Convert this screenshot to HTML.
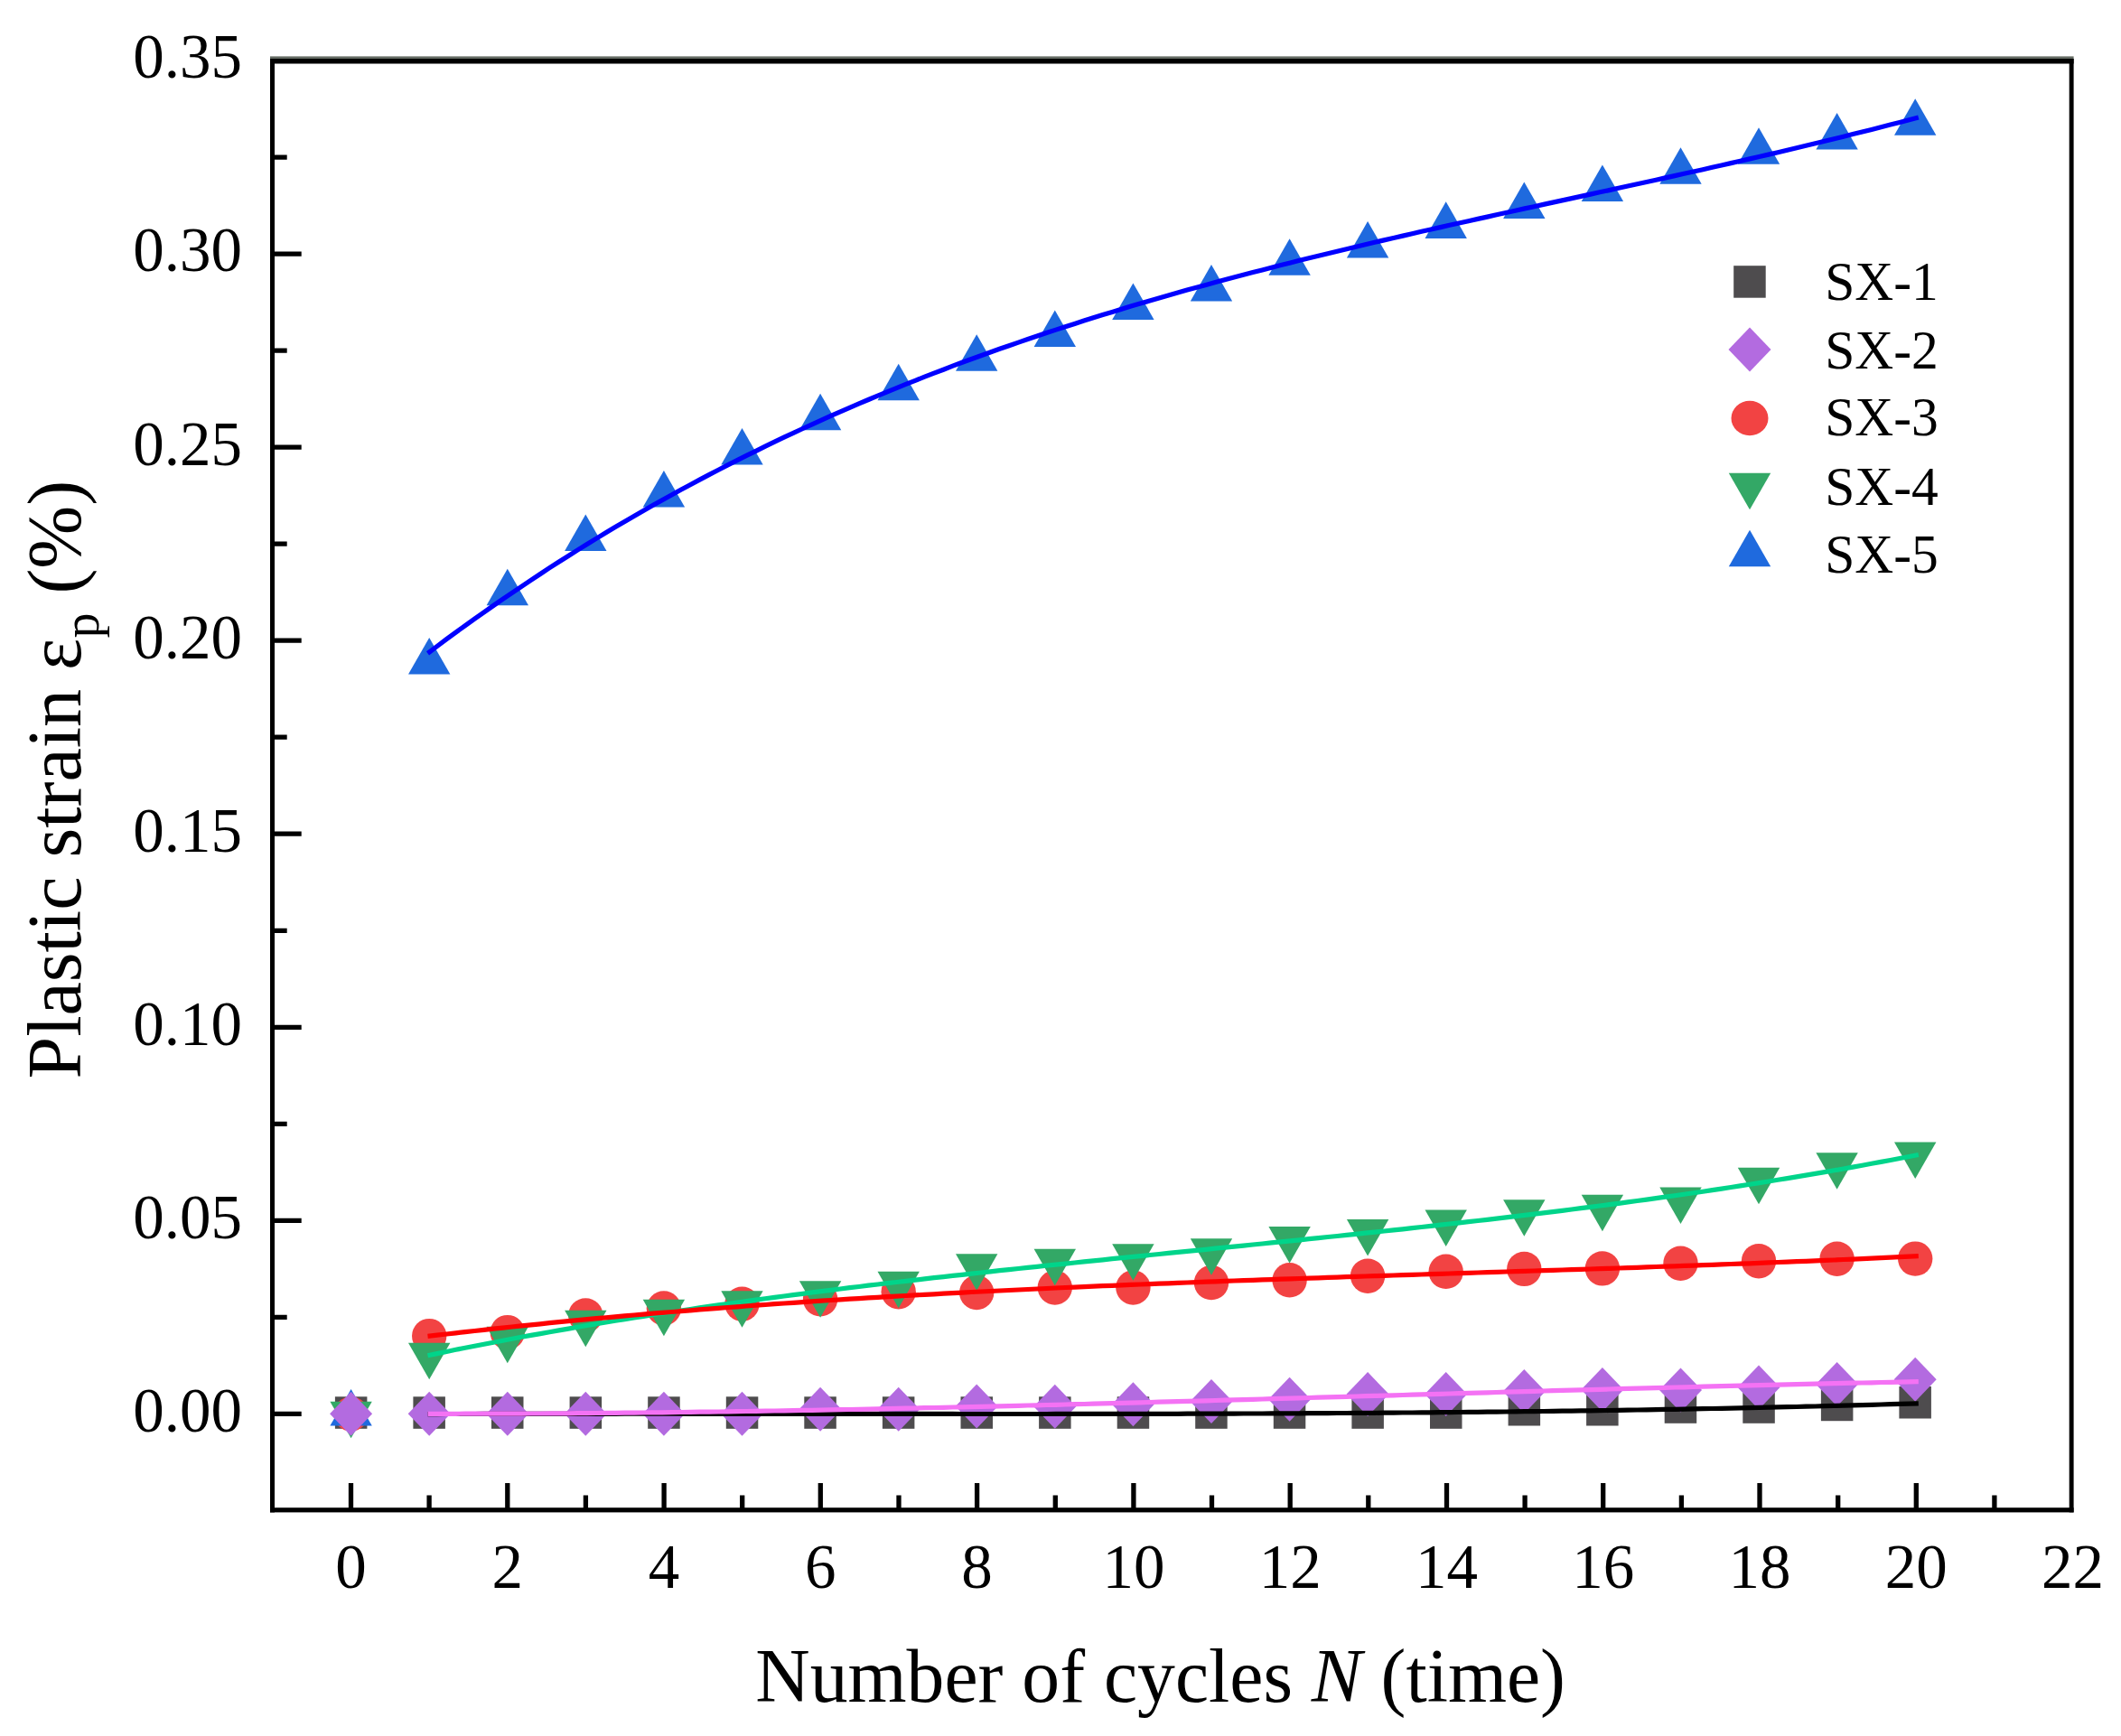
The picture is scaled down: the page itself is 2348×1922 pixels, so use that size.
<!DOCTYPE html><html><head><meta charset="utf-8"><title>Plastic strain vs number of cycles</title>
<style>html,body{margin:0;padding:0;background:#fff;}svg{display:block;}text{font-family:"Liberation Serif","Times New Roman",serif;fill:#000;}</style></head><body>
<svg width="2348" height="1922" viewBox="0 0 2348 1922">
<rect width="2348" height="1922" fill="#fff"/>
<g id="markers">
<rect x="370.9" y="1546.3" width="35.5" height="35.5" fill="#4e4c4e"/>
<rect x="457.4" y="1546.3" width="35.5" height="35.5" fill="#4e4c4e"/>
<rect x="544.0" y="1546.3" width="35.5" height="35.5" fill="#4e4c4e"/>
<rect x="630.6" y="1546.3" width="35.5" height="35.5" fill="#4e4c4e"/>
<rect x="717.2" y="1546.3" width="35.5" height="35.5" fill="#4e4c4e"/>
<rect x="803.8" y="1546.3" width="35.5" height="35.5" fill="#4e4c4e"/>
<rect x="890.3" y="1546.3" width="35.5" height="35.5" fill="#4e4c4e"/>
<rect x="976.9" y="1546.3" width="35.5" height="35.5" fill="#4e4c4e"/>
<rect x="1063.5" y="1546.3" width="35.5" height="35.5" fill="#4e4c4e"/>
<rect x="1150.1" y="1546.3" width="35.5" height="35.5" fill="#4e4c4e"/>
<rect x="1236.7" y="1546.3" width="35.5" height="35.5" fill="#4e4c4e"/>
<rect x="1323.2" y="1546.3" width="35.5" height="35.5" fill="#4e4c4e"/>
<rect x="1409.8" y="1546.3" width="35.5" height="35.5" fill="#4e4c4e"/>
<rect x="1496.4" y="1546.3" width="35.5" height="35.5" fill="#4e4c4e"/>
<rect x="1583.0" y="1546.3" width="35.5" height="35.5" fill="#4e4c4e"/>
<rect x="1669.6" y="1543.0" width="35.5" height="35.5" fill="#4e4c4e"/>
<rect x="1756.1" y="1543.0" width="35.5" height="35.5" fill="#4e4c4e"/>
<rect x="1842.7" y="1540.3" width="35.5" height="35.5" fill="#4e4c4e"/>
<rect x="1929.3" y="1540.3" width="35.5" height="35.5" fill="#4e4c4e"/>
<rect x="2015.9" y="1537.7" width="35.5" height="35.5" fill="#4e4c4e"/>
<rect x="2102.4" y="1535.0" width="35.5" height="35.5" fill="#4e4c4e"/>
<path d="M475.2 1540.8L498.7 1565.3L475.2 1589.8L451.7 1565.3Z" fill="#b36be0"/>
<path d="M561.8 1540.8L585.3 1565.3L561.8 1589.8L538.3 1565.3Z" fill="#b36be0"/>
<path d="M648.3 1540.8L671.8 1565.3L648.3 1589.8L624.8 1565.3Z" fill="#b36be0"/>
<path d="M734.9 1540.8L758.4 1565.3L734.9 1589.8L711.4 1565.3Z" fill="#b36be0"/>
<path d="M821.5 1540.8L845.0 1565.3L821.5 1589.8L798.0 1565.3Z" fill="#b36be0"/>
<path d="M908.1 1535.7L931.6 1560.2L908.1 1584.7L884.6 1560.2Z" fill="#b36be0"/>
<path d="M994.7 1535.7L1018.2 1560.2L994.7 1584.7L971.2 1560.2Z" fill="#b36be0"/>
<path d="M1081.2 1532.6L1104.7 1557.1L1081.2 1581.6L1057.7 1557.1Z" fill="#b36be0"/>
<path d="M1167.8 1532.7L1191.3 1557.2L1167.8 1581.7L1144.3 1557.2Z" fill="#b36be0"/>
<path d="M1254.4 1530.3L1277.9 1554.8L1254.4 1579.3L1230.9 1554.8Z" fill="#b36be0"/>
<path d="M1341.0 1527.1L1364.5 1551.6L1341.0 1576.1L1317.5 1551.6Z" fill="#b36be0"/>
<path d="M1427.6 1524.7L1451.1 1549.2L1427.6 1573.7L1404.1 1549.2Z" fill="#b36be0"/>
<path d="M1514.1 1519.1L1537.6 1543.6L1514.1 1568.1L1490.6 1543.6Z" fill="#b36be0"/>
<path d="M1600.7 1519.0L1624.2 1543.5L1600.7 1568.0L1577.2 1543.5Z" fill="#b36be0"/>
<path d="M1687.3 1516.1L1710.8 1540.6L1687.3 1565.1L1663.8 1540.6Z" fill="#b36be0"/>
<path d="M1773.9 1514.0L1797.4 1538.5L1773.9 1563.0L1750.4 1538.5Z" fill="#b36be0"/>
<path d="M1860.5 1514.4L1884.0 1538.9L1860.5 1563.4L1837.0 1538.9Z" fill="#b36be0"/>
<path d="M1947.0 1511.5L1970.5 1536.0L1947.0 1560.5L1923.5 1536.0Z" fill="#b36be0"/>
<path d="M2033.6 1508.0L2057.1 1532.5L2033.6 1557.0L2010.1 1532.5Z" fill="#b36be0"/>
<path d="M2120.2 1502.7L2143.7 1527.2L2120.2 1551.7L2096.7 1527.2Z" fill="#b36be0"/>
<circle cx="388.6" cy="1565.4" r="19.2" fill="#f24343"/>
<circle cx="475.2" cy="1479.1" r="19.2" fill="#f24343"/>
<circle cx="561.8" cy="1475.1" r="19.2" fill="#f24343"/>
<circle cx="648.3" cy="1456.4" r="19.2" fill="#f24343"/>
<circle cx="734.9" cy="1448.5" r="19.2" fill="#f24343"/>
<circle cx="821.5" cy="1443.7" r="19.2" fill="#f24343"/>
<circle cx="908.1" cy="1438.3" r="19.2" fill="#f24343"/>
<circle cx="994.7" cy="1430.2" r="19.2" fill="#f24343"/>
<circle cx="1081.2" cy="1431.0" r="19.2" fill="#f24343"/>
<circle cx="1167.8" cy="1425.5" r="19.2" fill="#f24343"/>
<circle cx="1254.4" cy="1425.5" r="19.2" fill="#f24343"/>
<circle cx="1341.0" cy="1420.1" r="19.2" fill="#f24343"/>
<circle cx="1427.6" cy="1417.3" r="19.2" fill="#f24343"/>
<circle cx="1514.1" cy="1412.7" r="19.2" fill="#f24343"/>
<circle cx="1600.7" cy="1407.8" r="19.2" fill="#f24343"/>
<circle cx="1687.3" cy="1404.9" r="19.2" fill="#f24343"/>
<circle cx="1773.9" cy="1404.4" r="19.2" fill="#f24343"/>
<circle cx="1860.5" cy="1398.7" r="19.2" fill="#f24343"/>
<circle cx="1947.0" cy="1396.2" r="19.2" fill="#f24343"/>
<circle cx="2033.6" cy="1393.7" r="19.2" fill="#f24343"/>
<circle cx="2120.2" cy="1393.6" r="19.2" fill="#f24343"/>
<path d="M365.4 1551.8L411.8 1551.8L388.6 1592.2Z" fill="#33a866"/>
<path d="M452.0 1486.8L498.4 1486.8L475.2 1527.2Z" fill="#33a866"/>
<path d="M538.6 1468.7L585.0 1468.7L561.8 1509.2Z" fill="#33a866"/>
<path d="M625.1 1450.8L671.5 1450.8L648.3 1491.2Z" fill="#33a866"/>
<path d="M711.7 1438.8L758.1 1438.8L734.9 1479.2Z" fill="#33a866"/>
<path d="M798.3 1429.2L844.7 1429.2L821.5 1469.8Z" fill="#33a866"/>
<path d="M884.9 1418.2L931.3 1418.2L908.1 1458.7Z" fill="#33a866"/>
<path d="M971.5 1407.8L1017.9 1407.8L994.7 1448.2Z" fill="#33a866"/>
<path d="M1058.0 1388.3L1104.4 1388.3L1081.2 1428.8Z" fill="#33a866"/>
<path d="M1144.6 1382.8L1191.0 1382.8L1167.8 1423.3Z" fill="#33a866"/>
<path d="M1231.2 1377.3L1277.6 1377.3L1254.4 1417.8Z" fill="#33a866"/>
<path d="M1317.8 1371.3L1364.2 1371.3L1341.0 1411.8Z" fill="#33a866"/>
<path d="M1404.4 1358.0L1450.8 1358.0L1427.6 1398.5Z" fill="#33a866"/>
<path d="M1490.9 1350.0L1537.3 1350.0L1514.1 1390.5Z" fill="#33a866"/>
<path d="M1577.5 1339.5L1623.9 1339.5L1600.7 1380.0Z" fill="#33a866"/>
<path d="M1664.1 1328.2L1710.5 1328.2L1687.3 1368.7Z" fill="#33a866"/>
<path d="M1750.7 1322.8L1797.1 1322.8L1773.9 1363.2Z" fill="#33a866"/>
<path d="M1837.3 1314.5L1883.7 1314.5L1860.5 1355.0Z" fill="#33a866"/>
<path d="M1923.8 1292.7L1970.2 1292.7L1947.0 1333.2Z" fill="#33a866"/>
<path d="M2010.4 1276.2L2056.8 1276.2L2033.6 1316.7Z" fill="#33a866"/>
<path d="M2097.0 1264.5L2143.4 1264.5L2120.2 1305.0Z" fill="#33a866"/>
<path d="M388.6 1538.0L411.8 1578.5L365.4 1578.5Z" fill="#1f6ade"/>
<path d="M475.2 706.0L498.4 746.5L452.0 746.5Z" fill="#1f6ade"/>
<path d="M561.8 629.8L585.0 670.2L538.6 670.2Z" fill="#1f6ade"/>
<path d="M648.3 569.5L671.5 610.0L625.1 610.0Z" fill="#1f6ade"/>
<path d="M734.9 521.1L758.1 561.6L711.7 561.6Z" fill="#1f6ade"/>
<path d="M821.5 474.1L844.7 514.5L798.3 514.5Z" fill="#1f6ade"/>
<path d="M908.1 435.8L931.3 476.2L884.9 476.2Z" fill="#1f6ade"/>
<path d="M994.7 402.8L1017.9 443.2L971.5 443.2Z" fill="#1f6ade"/>
<path d="M1081.2 370.2L1104.4 410.8L1058.0 410.8Z" fill="#1f6ade"/>
<path d="M1167.8 343.4L1191.0 383.9L1144.6 383.9Z" fill="#1f6ade"/>
<path d="M1254.4 313.4L1277.6 353.9L1231.2 353.9Z" fill="#1f6ade"/>
<path d="M1341.0 292.9L1364.2 333.4L1317.8 333.4Z" fill="#1f6ade"/>
<path d="M1427.6 264.2L1450.8 304.8L1404.4 304.8Z" fill="#1f6ade"/>
<path d="M1514.1 245.1L1537.3 285.6L1490.9 285.6Z" fill="#1f6ade"/>
<path d="M1600.7 223.3L1623.9 263.9L1577.5 263.9Z" fill="#1f6ade"/>
<path d="M1687.3 201.6L1710.5 242.1L1664.1 242.1Z" fill="#1f6ade"/>
<path d="M1773.9 182.4L1797.1 222.9L1750.7 222.9Z" fill="#1f6ade"/>
<path d="M1860.5 163.3L1883.7 203.8L1837.3 203.8Z" fill="#1f6ade"/>
<path d="M1947.0 141.3L1970.2 181.8L1923.8 181.8Z" fill="#1f6ade"/>
<path d="M2033.6 125.1L2056.8 165.6L2010.4 165.6Z" fill="#1f6ade"/>
<path d="M2120.2 109.2L2143.4 149.7L2097.0 149.7Z" fill="#1f6ade"/>
<path d="M388.6 1540.8L412.1 1565.3L388.6 1589.8L365.1 1565.3Z" fill="#b36be0"/>
</g>
<g fill="none" stroke-width="5.2" stroke-linejoin="round">
<polyline points="473.5,1565.6 483.9,1565.6 494.3,1565.5 504.6,1565.5 515.0,1565.5 525.4,1565.5 535.8,1565.4 546.2,1565.4 556.5,1565.4 566.9,1565.4 577.3,1565.4 587.7,1565.3 598.1,1565.3 608.4,1565.3 618.8,1565.3 629.2,1565.3 639.6,1565.3 649.9,1565.3 660.3,1565.3 670.7,1565.3 681.1,1565.3 691.5,1565.2 701.8,1565.2 712.2,1565.2 722.6,1565.2 733.0,1565.2 743.4,1565.2 753.7,1565.2 764.1,1565.3 774.5,1565.3 784.9,1565.3 795.3,1565.3 805.6,1565.3 816.0,1565.3 826.4,1565.3 836.8,1565.3 847.2,1565.3 857.5,1565.3 867.9,1565.3 878.3,1565.3 888.7,1565.3 899.0,1565.3 909.4,1565.3 919.8,1565.4 930.2,1565.4 940.6,1565.4 950.9,1565.4 961.3,1565.4 971.7,1565.4 982.1,1565.4 992.5,1565.4 1002.8,1565.4 1013.2,1565.4 1023.6,1565.4 1034.0,1565.4 1044.4,1565.4 1054.7,1565.4 1065.1,1565.5 1075.5,1565.5 1085.9,1565.5 1096.3,1565.5 1106.6,1565.5 1117.0,1565.5 1127.4,1565.5 1137.8,1565.5 1148.2,1565.5 1158.5,1565.5 1168.9,1565.4 1179.3,1565.4 1189.7,1565.4 1200.0,1565.4 1210.4,1565.4 1220.8,1565.4 1231.2,1565.4 1241.6,1565.4 1251.9,1565.4 1262.3,1565.3 1272.7,1565.3 1283.1,1565.3 1293.5,1565.3 1303.8,1565.3 1314.2,1565.2 1324.6,1565.2 1335.0,1565.2 1345.4,1565.1 1355.7,1565.1 1366.1,1565.1 1376.5,1565.0 1386.9,1565.0 1397.3,1565.0 1407.6,1564.9 1418.0,1564.9 1428.4,1564.8 1438.8,1564.8 1449.1,1564.7 1459.5,1564.7 1469.9,1564.6 1480.3,1564.5 1490.7,1564.5 1501.0,1564.4 1511.4,1564.3 1521.8,1564.3 1532.2,1564.2 1542.6,1564.1 1552.9,1564.0 1563.3,1564.0 1573.7,1563.9 1584.1,1563.8 1594.5,1563.7 1604.8,1563.6 1615.2,1563.5 1625.6,1563.4 1636.0,1563.3 1646.4,1563.2 1656.7,1563.1 1667.1,1563.0 1677.5,1562.8 1687.9,1562.7 1698.3,1562.6 1708.6,1562.5 1719.0,1562.3 1729.4,1562.2 1739.8,1562.1 1750.1,1561.9 1760.5,1561.8 1770.9,1561.6 1781.3,1561.5 1791.7,1561.3 1802.0,1561.1 1812.4,1561.0 1822.8,1560.8 1833.2,1560.6 1843.6,1560.4 1853.9,1560.3 1864.3,1560.1 1874.7,1559.9 1885.1,1559.7 1895.5,1559.5 1905.8,1559.3 1916.2,1559.1 1926.6,1558.9 1937.0,1558.6 1947.4,1558.4 1957.7,1558.2 1968.1,1557.9 1978.5,1557.7 1988.9,1557.5 1999.2,1557.2 2009.6,1557.0 2020.0,1556.7 2030.4,1556.4 2040.8,1556.2 2051.1,1555.9 2061.5,1555.6 2071.9,1555.3 2082.3,1555.0 2092.7,1554.7 2103.0,1554.4 2113.4,1554.1 2123.8,1553.8" stroke="#000000"/>
<polyline points="473.5,1565.3 483.9,1565.3 494.3,1565.3 504.6,1565.3 515.0,1565.2 525.4,1565.2 535.8,1565.2 546.2,1565.2 556.5,1565.2 566.9,1565.1 577.3,1565.1 587.7,1565.0 598.1,1565.0 608.4,1564.9 618.8,1564.8 629.2,1564.8 639.6,1564.7 649.9,1564.6 660.3,1564.5 670.7,1564.4 681.1,1564.3 691.5,1564.2 701.8,1564.1 712.2,1564.0 722.6,1563.9 733.0,1563.8 743.4,1563.7 753.7,1563.5 764.1,1563.4 774.5,1563.2 784.9,1563.1 795.3,1563.0 805.6,1562.8 816.0,1562.6 826.4,1562.5 836.8,1562.3 847.2,1562.2 857.5,1562.0 867.9,1561.8 878.3,1561.6 888.7,1561.4 899.0,1561.3 909.4,1561.1 919.8,1560.9 930.2,1560.7 940.6,1560.5 950.9,1560.3 961.3,1560.1 971.7,1559.8 982.1,1559.6 992.5,1559.4 1002.8,1559.2 1013.2,1559.0 1023.6,1558.7 1034.0,1558.5 1044.4,1558.3 1054.7,1558.0 1065.1,1557.8 1075.5,1557.6 1085.9,1557.3 1096.3,1557.1 1106.6,1556.8 1117.0,1556.6 1127.4,1556.3 1137.8,1556.0 1148.2,1555.8 1158.5,1555.5 1168.9,1555.3 1179.3,1555.0 1189.7,1554.7 1200.0,1554.5 1210.4,1554.2 1220.8,1553.9 1231.2,1553.6 1241.6,1553.4 1251.9,1553.1 1262.3,1552.8 1272.7,1552.5 1283.1,1552.2 1293.5,1551.9 1303.8,1551.7 1314.2,1551.4 1324.6,1551.1 1335.0,1550.8 1345.4,1550.5 1355.7,1550.2 1366.1,1549.9 1376.5,1549.6 1386.9,1549.3 1397.3,1549.0 1407.6,1548.7 1418.0,1548.4 1428.4,1548.1 1438.8,1547.8 1449.1,1547.5 1459.5,1547.2 1469.9,1546.9 1480.3,1546.6 1490.7,1546.3 1501.0,1546.0 1511.4,1545.7 1521.8,1545.4 1532.2,1545.1 1542.6,1544.8 1552.9,1544.5 1563.3,1544.2 1573.7,1543.9 1584.1,1543.6 1594.5,1543.3 1604.8,1543.0 1615.2,1542.7 1625.6,1542.4 1636.0,1542.1 1646.4,1541.8 1656.7,1541.5 1667.1,1541.2 1677.5,1540.9 1687.9,1540.6 1698.3,1540.3 1708.6,1540.0 1719.0,1539.7 1729.4,1539.4 1739.8,1539.1 1750.1,1538.9 1760.5,1538.6 1770.9,1538.3 1781.3,1538.0 1791.7,1537.7 1802.0,1537.4 1812.4,1537.1 1822.8,1536.9 1833.2,1536.6 1843.6,1536.3 1853.9,1536.0 1864.3,1535.8 1874.7,1535.5 1885.1,1535.2 1895.5,1534.9 1905.8,1534.7 1916.2,1534.4 1926.6,1534.2 1937.0,1533.9 1947.4,1533.6 1957.7,1533.4 1968.1,1533.1 1978.5,1532.9 1988.9,1532.6 1999.2,1532.4 2009.6,1532.1 2020.0,1531.9 2030.4,1531.7 2040.8,1531.4 2051.1,1531.2 2061.5,1531.0 2071.9,1530.8 2082.3,1530.5 2092.7,1530.3 2103.0,1530.1 2113.4,1529.9 2123.8,1529.7" stroke="#f472f4"/>
<polyline points="473.5,1500.7 483.9,1498.6 494.3,1496.5 504.6,1494.3 515.0,1492.3 525.4,1490.2 535.8,1488.2 546.2,1486.2 556.5,1484.2 566.9,1482.3 577.3,1480.3 587.7,1478.4 598.1,1476.6 608.4,1474.7 618.8,1472.9 629.2,1471.1 639.6,1469.3 649.9,1467.5 660.3,1465.8 670.7,1464.0 681.1,1462.3 691.5,1460.7 701.8,1459.0 712.2,1457.4 722.6,1455.7 733.0,1454.1 743.4,1452.6 753.7,1451.0 764.1,1449.5 774.5,1447.9 784.9,1446.4 795.3,1444.9 805.6,1443.5 816.0,1442.0 826.4,1440.6 836.8,1439.2 847.2,1437.7 857.5,1436.4 867.9,1435.0 878.3,1433.6 888.7,1432.3 899.0,1430.9 909.4,1429.6 919.8,1428.3 930.2,1427.0 940.6,1425.7 950.9,1424.5 961.3,1423.2 971.7,1422.0 982.1,1420.7 992.5,1419.5 1002.8,1418.3 1013.2,1417.1 1023.6,1415.9 1034.0,1414.7 1044.4,1413.6 1054.7,1412.4 1065.1,1411.3 1075.5,1410.1 1085.9,1409.0 1096.3,1407.8 1106.6,1406.7 1117.0,1405.6 1127.4,1404.5 1137.8,1403.4 1148.2,1402.3 1158.5,1401.2 1168.9,1400.1 1179.3,1399.1 1189.7,1398.0 1200.0,1396.9 1210.4,1395.8 1220.8,1394.8 1231.2,1393.7 1241.6,1392.7 1251.9,1391.6 1262.3,1390.6 1272.7,1389.5 1283.1,1388.5 1293.5,1387.4 1303.8,1386.4 1314.2,1385.3 1324.6,1384.3 1335.0,1383.3 1345.4,1382.2 1355.7,1381.2 1366.1,1380.1 1376.5,1379.1 1386.9,1378.0 1397.3,1377.0 1407.6,1375.9 1418.0,1374.9 1428.4,1373.8 1438.8,1372.8 1449.1,1371.7 1459.5,1370.6 1469.9,1369.5 1480.3,1368.5 1490.7,1367.4 1501.0,1366.3 1511.4,1365.2 1521.8,1364.1 1532.2,1363.0 1542.6,1361.9 1552.9,1360.8 1563.3,1359.6 1573.7,1358.5 1584.1,1357.4 1594.5,1356.2 1604.8,1355.0 1615.2,1353.9 1625.6,1352.7 1636.0,1351.5 1646.4,1350.3 1656.7,1349.1 1667.1,1347.9 1677.5,1346.6 1687.9,1345.4 1698.3,1344.1 1708.6,1342.9 1719.0,1341.6 1729.4,1340.3 1739.8,1339.0 1750.1,1337.7 1760.5,1336.4 1770.9,1335.0 1781.3,1333.6 1791.7,1332.3 1802.0,1330.9 1812.4,1329.5 1822.8,1328.1 1833.2,1326.6 1843.6,1325.2 1853.9,1323.7 1864.3,1322.2 1874.7,1320.7 1885.1,1319.2 1895.5,1317.6 1905.8,1316.1 1916.2,1314.5 1926.6,1312.9 1937.0,1311.3 1947.4,1309.6 1957.7,1308.0 1968.1,1306.3 1978.5,1304.6 1988.9,1302.9 1999.2,1301.1 2009.6,1299.4 2020.0,1297.6 2030.4,1295.8 2040.8,1294.0 2051.1,1292.1 2061.5,1290.2 2071.9,1288.3 2082.3,1286.4 2092.7,1284.5 2103.0,1282.5 2113.4,1280.5 2123.8,1278.5" stroke="#00d48a"/>
<polyline points="473.5,1479.4 483.9,1478.2 494.3,1477.0 504.6,1475.8 515.0,1474.6 525.4,1473.5 535.8,1472.3 546.2,1471.2 556.5,1470.1 566.9,1469.0 577.3,1467.9 587.7,1466.8 598.1,1465.8 608.4,1464.7 618.8,1463.7 629.2,1462.7 639.6,1461.7 649.9,1460.7 660.3,1459.7 670.7,1458.8 681.1,1457.8 691.5,1456.9 701.8,1456.0 712.2,1455.1 722.6,1454.2 733.0,1453.3 743.4,1452.5 753.7,1451.6 764.1,1450.8 774.5,1449.9 784.9,1449.1 795.3,1448.3 805.6,1447.5 816.0,1446.8 826.4,1446.0 836.8,1445.2 847.2,1444.5 857.5,1443.7 867.9,1443.0 878.3,1442.3 888.7,1441.6 899.0,1440.9 909.4,1440.2 919.8,1439.5 930.2,1438.9 940.6,1438.2 950.9,1437.6 961.3,1436.9 971.7,1436.3 982.1,1435.7 992.5,1435.1 1002.8,1434.5 1013.2,1433.9 1023.6,1433.3 1034.0,1432.8 1044.4,1432.2 1054.7,1431.6 1065.1,1431.1 1075.5,1430.5 1085.9,1430.0 1096.3,1429.5 1106.6,1429.0 1117.0,1428.5 1127.4,1428.0 1137.8,1427.5 1148.2,1427.0 1158.5,1426.5 1168.9,1426.0 1179.3,1425.5 1189.7,1425.1 1200.0,1424.6 1210.4,1424.2 1220.8,1423.7 1231.2,1423.3 1241.6,1422.9 1251.9,1422.4 1262.3,1422.0 1272.7,1421.6 1283.1,1421.2 1293.5,1420.8 1303.8,1420.4 1314.2,1420.0 1324.6,1419.6 1335.0,1419.2 1345.4,1418.8 1355.7,1418.4 1366.1,1418.0 1376.5,1417.7 1386.9,1417.3 1397.3,1416.9 1407.6,1416.6 1418.0,1416.2 1428.4,1415.8 1438.8,1415.5 1449.1,1415.1 1459.5,1414.8 1469.9,1414.4 1480.3,1414.1 1490.7,1413.7 1501.0,1413.4 1511.4,1413.0 1521.8,1412.7 1532.2,1412.4 1542.6,1412.0 1552.9,1411.7 1563.3,1411.4 1573.7,1411.0 1584.1,1410.7 1594.5,1410.4 1604.8,1410.0 1615.2,1409.7 1625.6,1409.4 1636.0,1409.0 1646.4,1408.7 1656.7,1408.4 1667.1,1408.0 1677.5,1407.7 1687.9,1407.4 1698.3,1407.0 1708.6,1406.7 1719.0,1406.4 1729.4,1406.0 1739.8,1405.7 1750.1,1405.3 1760.5,1405.0 1770.9,1404.7 1781.3,1404.3 1791.7,1404.0 1802.0,1403.6 1812.4,1403.3 1822.8,1402.9 1833.2,1402.5 1843.6,1402.2 1853.9,1401.8 1864.3,1401.4 1874.7,1401.1 1885.1,1400.7 1895.5,1400.3 1905.8,1399.9 1916.2,1399.5 1926.6,1399.1 1937.0,1398.8 1947.4,1398.4 1957.7,1397.9 1968.1,1397.5 1978.5,1397.1 1988.9,1396.7 1999.2,1396.3 2009.6,1395.9 2020.0,1395.4 2030.4,1395.0 2040.8,1394.5 2051.1,1394.1 2061.5,1393.6 2071.9,1393.2 2082.3,1392.7 2092.7,1392.2 2103.0,1391.7 2113.4,1391.2 2123.8,1390.7" stroke="#ff0000"/>
<polyline points="473.5,723.3 483.9,715.5 494.3,707.7 504.6,700.1 515.0,692.6 525.4,685.2 535.8,677.8 546.2,670.5 556.5,663.4 566.9,656.3 577.3,649.3 587.7,642.3 598.1,635.5 608.4,628.7 618.8,622.0 629.2,615.5 639.6,608.9 649.9,602.5 660.3,596.1 670.7,589.8 681.1,583.6 691.5,577.5 701.8,571.5 712.2,565.5 722.6,559.6 733.0,553.7 743.4,548.0 753.7,542.3 764.1,536.7 774.5,531.1 784.9,525.6 795.3,520.2 805.6,514.9 816.0,509.6 826.4,504.4 836.8,499.3 847.2,494.2 857.5,489.2 867.9,484.2 878.3,479.4 888.7,474.5 899.0,469.8 909.4,465.1 919.8,460.4 930.2,455.9 940.6,451.3 950.9,446.9 961.3,442.5 971.7,438.1 982.1,433.8 992.5,429.6 1002.8,425.4 1013.2,421.3 1023.6,417.2 1034.0,413.1 1044.4,409.2 1054.7,405.2 1065.1,401.3 1075.5,397.5 1085.9,393.7 1096.3,390.0 1106.6,386.3 1117.0,382.7 1127.4,379.1 1137.8,375.5 1148.2,372.0 1158.5,368.5 1168.9,365.1 1179.3,361.7 1189.7,358.4 1200.0,355.1 1210.4,351.8 1220.8,348.6 1231.2,345.4 1241.6,342.2 1251.9,339.1 1262.3,336.0 1272.7,333.0 1283.1,330.0 1293.5,327.0 1303.8,324.1 1314.2,321.1 1324.6,318.3 1335.0,315.4 1345.4,312.6 1355.7,309.8 1366.1,307.0 1376.5,304.3 1386.9,301.6 1397.3,298.9 1407.6,296.2 1418.0,293.6 1428.4,290.9 1438.8,288.3 1449.1,285.8 1459.5,283.2 1469.9,280.7 1480.3,278.2 1490.7,275.7 1501.0,273.2 1511.4,270.8 1521.8,268.3 1532.2,265.9 1542.6,263.5 1552.9,261.1 1563.3,258.7 1573.7,256.3 1584.1,254.0 1594.5,251.6 1604.8,249.3 1615.2,247.0 1625.6,244.7 1636.0,242.4 1646.4,240.1 1656.7,237.8 1667.1,235.5 1677.5,233.2 1687.9,230.9 1698.3,228.7 1708.6,226.4 1719.0,224.1 1729.4,221.9 1739.8,219.6 1750.1,217.4 1760.5,215.1 1770.9,212.8 1781.3,210.6 1791.7,208.3 1802.0,206.0 1812.4,203.8 1822.8,201.5 1833.2,199.2 1843.6,196.9 1853.9,194.6 1864.3,192.3 1874.7,190.0 1885.1,187.7 1895.5,185.3 1905.8,183.0 1916.2,180.6 1926.6,178.3 1937.0,175.9 1947.4,173.5 1957.7,171.1 1968.1,168.7 1978.5,166.2 1988.9,163.8 1999.2,161.3 2009.6,158.8 2020.0,156.3 2030.4,153.7 2040.8,151.2 2051.1,148.6 2061.5,146.0 2071.9,143.4 2082.3,140.7 2092.7,138.1 2103.0,135.4 2113.4,132.7 2123.8,129.9" stroke="#0000ff"/>
</g>
<rect x="299" y="62.4" width="1996.6" height="2.6" fill="#646b63"/>
<g fill="#000"><rect x="299" y="65" width="1996.6" height="5.5"/><rect x="299" y="1669.2" width="1996.6" height="5.2"/><rect x="299" y="65" width="5" height="1609.4"/><rect x="2290.7" y="65" width="4.9" height="1609.4"/></g>
<path d="M388.5 1671.8V1642.0 M475.1 1671.8V1655.6 M561.8 1671.8V1642.0 M648.4 1671.8V1655.6 M735.1 1671.8V1642.0 M821.7 1671.8V1655.6 M908.3 1671.8V1642.0 M995.0 1671.8V1655.6 M1081.6 1671.8V1642.0 M1168.3 1671.8V1655.6 M1254.9 1671.8V1642.0 M1341.5 1671.8V1655.6 M1428.2 1671.8V1642.0 M1514.8 1671.8V1655.6 M1601.5 1671.8V1642.0 M1688.1 1671.8V1655.6 M1774.7 1671.8V1642.0 M1861.4 1671.8V1655.6 M1948.0 1671.8V1642.0 M2034.7 1671.8V1655.6 M2121.3 1671.8V1642.0 M2207.9 1671.8V1655.6 M301.5 1565.4H333.7 M301.5 1458.4H317.7 M301.5 1351.4H333.7 M301.5 1244.3H317.7 M301.5 1137.3H333.7 M301.5 1030.3H317.7 M301.5 923.2H333.7 M301.5 816.2H317.7 M301.5 709.2H333.7 M301.5 602.2H317.7 M301.5 495.2H333.7 M301.5 388.1H317.7 M301.5 281.1H333.7 M301.5 174.1H317.7" stroke="#000" stroke-width="5.3" fill="none"/>
<g font-size="69">
<text x="268" y="1584.7" text-anchor="end">0.00</text>
<text x="268" y="1370.7" text-anchor="end">0.05</text>
<text x="268" y="1156.6" text-anchor="end">0.10</text>
<text x="268" y="942.5" text-anchor="end">0.15</text>
<text x="268" y="728.5" text-anchor="end">0.20</text>
<text x="268" y="514.5" text-anchor="end">0.25</text>
<text x="268" y="300.4" text-anchor="end">0.30</text>
<text x="268" y="86.3" text-anchor="end">0.35</text>
<text x="388.5" y="1758.3" text-anchor="middle">0</text>
<text x="561.8" y="1758.3" text-anchor="middle">2</text>
<text x="735.1" y="1758.3" text-anchor="middle">4</text>
<text x="908.3" y="1758.3" text-anchor="middle">6</text>
<text x="1081.6" y="1758.3" text-anchor="middle">8</text>
<text x="1254.9" y="1758.3" text-anchor="middle">10</text>
<text x="1428.2" y="1758.3" text-anchor="middle">12</text>
<text x="1601.5" y="1758.3" text-anchor="middle">14</text>
<text x="1774.7" y="1758.3" text-anchor="middle">16</text>
<text x="1948.0" y="1758.3" text-anchor="middle">18</text>
<text x="2121.3" y="1758.3" text-anchor="middle">20</text>
<text x="2294.6" y="1758.3" text-anchor="middle">22</text>
</g>
<text transform="translate(836.3,1884.4) scale(0.996,1.012)" x="0" y="0" font-size="84">Number of cycles <tspan font-style="italic">N</tspan> (time)</text>
<text transform="translate(89,1194.5) rotate(-90)" font-size="84">Plastic strain <tspan>ε</tspan><tspan font-size="56" dy="20">p</tspan><tspan dy="-20"> (%)</tspan></text>
<rect x="1919.2" y="294.2" width="35.5" height="35.5" fill="#4e4c4e"/>
<path d="M1937.0 362.5L1960.5 387.0L1937.0 411.5L1913.5 387.0Z" fill="#b36be0"/>
<ellipse cx="1937" cy="463" rx="20.5" ry="19.2" fill="#f24343"/>
<path d="M1913.8 523.8L1960.2 523.8L1937.0 564.2Z" fill="#33a866"/>
<path d="M1937.0 586.8L1960.2 627.2L1913.8 627.2Z" fill="#1f6ade"/>
<g font-size="61" transform="translate(2020.3,0) scale(0.975,1)">
<text x="0" y="331.8">SX-1</text>
<text x="0" y="408.2">SX-2</text>
<text x="0" y="482.4">SX-3</text>
<text x="0" y="558.8">SX-4</text>
<text x="0" y="634">SX-5</text>
</g>
</svg></body></html>
